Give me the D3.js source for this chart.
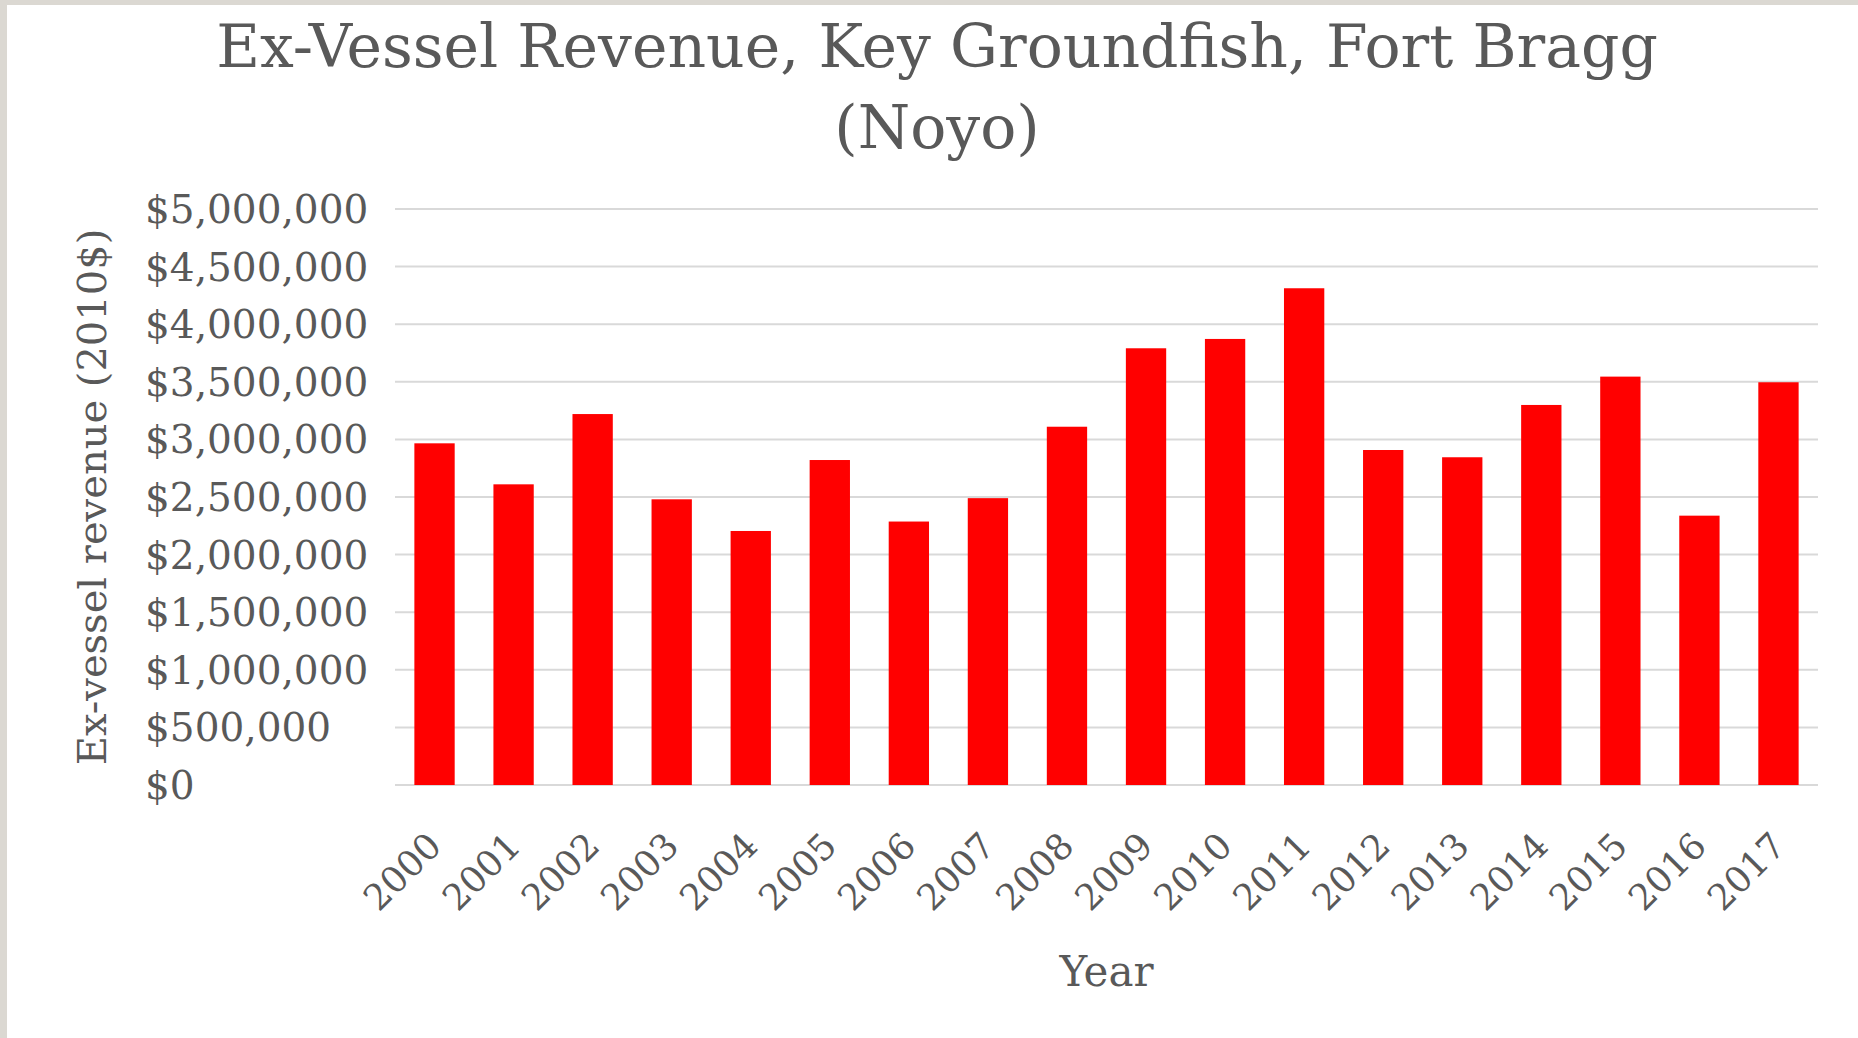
<!DOCTYPE html>
<html>
<head>
<meta charset="utf-8">
<script src="https://cdn.jsdelivr.net/npm/d3@7"></script>
<style>
  body { margin: 0; background: #fff; }
  text { font-family: "DejaVu Serif", serif; fill: #595959; }
</style>
</head>
<body>
<div id="chart"></div>
<script>
var years = ["2000","2001","2002","2003","2004","2005","2006","2007","2008",
             "2009","2010","2011","2012","2013","2014","2015","2016","2017"];
var revenue = [2966000, 2610000, 3220000, 2480000, 2205000, 2821000, 2287000, 2490000, 3110000,
               3791000, 3872000, 4312000, 2908000, 2845000, 3299000, 3545000, 2338000, 3496000];
var yTicks = [0, 500000, 1000000, 1500000, 2000000, 2500000, 3000000, 3500000, 4000000, 4500000, 5000000];
var titleLines = ["Ex-Vessel Revenue, Key Groundfish, Fort Bragg", "(Noyo)"];

var W = 1858, H = 1038;
var plot = {left: 395, right: 1818, top: 209, bottom: 785};

var svg = d3.select("#chart").append("svg")
    .attr("width", W)
    .attr("height", H);

// window frame strips on the left and top
svg.append("rect").attr("width", W).attr("height", H).attr("fill", "#dbd8d2");
svg.append("rect").attr("x", 7).attr("y", 5).attr("width", W - 7).attr("height", H - 5).attr("fill", "#fff");

var x = d3.scaleBand()
    .domain(years)
    .range([plot.left, plot.right])
    .paddingInner(0.49)
    .paddingOuter(0.245);

var y = d3.scaleLinear()
    .domain([0, 5000000])
    .range([plot.bottom, plot.top]);

var money = d3.format(",");

// gridlines
svg.append("g")
  .selectAll("line")
  .data(yTicks)
  .join("line")
    .attr("x1", plot.left)
    .attr("x2", plot.right)
    .attr("y1", function(d) { return y(d); })
    .attr("y2", function(d) { return y(d); })
    .attr("stroke", "#d9d9d9")
    .attr("stroke-width", 2);

// bars
svg.append("g")
  .selectAll("rect")
  .data(revenue)
  .join("rect")
    .attr("x", function(d, i) { return x(years[i]); })
    .attr("width", x.bandwidth())
    .attr("y", function(d) { return y(d); })
    .attr("height", function(d) { return y(0) - y(d); })
    .attr("fill", "#ff0000");

// y axis labels (left aligned, like the original)
svg.append("g")
  .selectAll("text")
  .data(yTicks)
  .join("text")
    .attr("x", 145)
    .attr("y", function(d) { return y(d); })
    .attr("dy", "0.36em")
    .attr("text-anchor", "start")
    .attr("font-size", "39px")
    .text(function(d) { return "$" + money(d); });

// x axis labels, rotated
svg.append("g")
  .selectAll("text")
  .data(years)
  .join("text")
    .attr("text-anchor", "end")
    .attr("font-size", "36px")
    .attr("transform", function(d) {
      return "translate(" + (x(d) + x.bandwidth() / 2 + 9) + "," + (plot.bottom + 63) + ") rotate(-45)";
    })
    .text(function(d) { return d; });

// title
svg.append("g")
  .selectAll("text")
  .data(titleLines)
  .join("text")
    .attr("x", 937)
    .attr("y", function(d, i) { return 67 + i * 81; })
    .attr("text-anchor", "middle")
    .attr("font-size", "60px")
    .text(function(d) { return d; });

// axis titles
svg.append("text")
    .attr("transform", "translate(106," + ((plot.top + plot.bottom) / 2) + ") rotate(-90)")
    .attr("text-anchor", "middle")
    .attr("font-size", "40px")
    .text("Ex-vessel revenue (2010$)");

svg.append("text")
    .attr("x", (plot.left + plot.right) / 2)
    .attr("y", 986)
    .attr("text-anchor", "middle")
    .attr("font-size", "42px")
    .text("Year");
</script>
</body>
</html>
